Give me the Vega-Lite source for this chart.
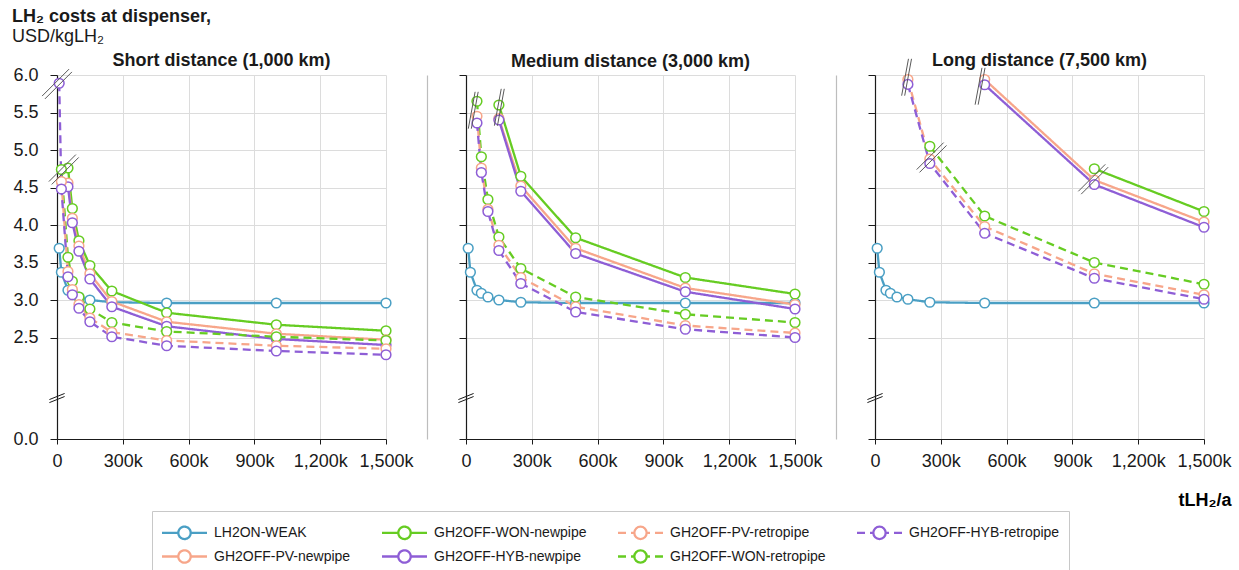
{
  "$schema": "https://vega.github.io/schema/vega-lite/v6.json",
  "autosize": {"type": "pad"},
  "padding": {"left": 12, "top": 8, "right": 5, "bottom": 5},
  "background": "white",
  "title": {
    "text": "LH₂ costs at dispenser,",
    "subtitle": "USD/kgLH₂",
    "anchor": "start",
    "frame": "group",
    "dx": -45,
    "offset": 6,
    "fontSize": 18,
    "fontWeight": "bold",
    "subtitleFontSize": 18,
    "subtitleFont": "Liberation Sans",
    "subtitleColor": "#1a1a1a",
    "subtitlePadding": 2
  },
  "datasets": {
    "lines": [
      {"panel": "short", "series": "LH2ON-WEAK", "x": 10000, "y": 3.69},
      {"panel": "short", "series": "LH2ON-WEAK", "x": 20000, "y": 3.37},
      {"panel": "short", "series": "LH2ON-WEAK", "x": 50000, "y": 3.13},
      {"panel": "short", "series": "LH2ON-WEAK", "x": 70000, "y": 3.09},
      {"panel": "short", "series": "LH2ON-WEAK", "x": 100000, "y": 3.04},
      {"panel": "short", "series": "LH2ON-WEAK", "x": 150000, "y": 3.0},
      {"panel": "short", "series": "LH2ON-WEAK", "x": 250000, "y": 2.97},
      {"panel": "short", "series": "LH2ON-WEAK", "x": 500000, "y": 2.96},
      {"panel": "short", "series": "LH2ON-WEAK", "x": 1000000, "y": 2.96},
      {"panel": "short", "series": "LH2ON-WEAK", "x": 1500000, "y": 2.96},
      {"panel": "short", "series": "GH2OFF-WON-newpipe", "x": 50000, "y": 4.76},
      {"panel": "short", "series": "GH2OFF-WON-newpipe", "x": 70000, "y": 4.22},
      {"panel": "short", "series": "GH2OFF-WON-newpipe", "x": 100000, "y": 3.79},
      {"panel": "short", "series": "GH2OFF-WON-newpipe", "x": 150000, "y": 3.46},
      {"panel": "short", "series": "GH2OFF-WON-newpipe", "x": 250000, "y": 3.12},
      {"panel": "short", "series": "GH2OFF-WON-newpipe", "x": 500000, "y": 2.83},
      {"panel": "short", "series": "GH2OFF-WON-newpipe", "x": 1000000, "y": 2.67},
      {"panel": "short", "series": "GH2OFF-WON-newpipe", "x": 1500000, "y": 2.59},
      {"panel": "short", "series": "GH2OFF-PV-newpipe", "x": 50000, "y": 4.56},
      {"panel": "short", "series": "GH2OFF-PV-newpipe", "x": 70000, "y": 4.09},
      {"panel": "short", "series": "GH2OFF-PV-newpipe", "x": 100000, "y": 3.72},
      {"panel": "short", "series": "GH2OFF-PV-newpipe", "x": 150000, "y": 3.35},
      {"panel": "short", "series": "GH2OFF-PV-newpipe", "x": 250000, "y": 2.98},
      {"panel": "short", "series": "GH2OFF-PV-newpipe", "x": 500000, "y": 2.71},
      {"panel": "short", "series": "GH2OFF-PV-newpipe", "x": 1000000, "y": 2.55},
      {"panel": "short", "series": "GH2OFF-PV-newpipe", "x": 1500000, "y": 2.47},
      {"panel": "short", "series": "GH2OFF-HYB-newpipe", "x": 50000, "y": 4.51},
      {"panel": "short", "series": "GH2OFF-HYB-newpipe", "x": 70000, "y": 4.03},
      {"panel": "short", "series": "GH2OFF-HYB-newpipe", "x": 100000, "y": 3.65},
      {"panel": "short", "series": "GH2OFF-HYB-newpipe", "x": 150000, "y": 3.28},
      {"panel": "short", "series": "GH2OFF-HYB-newpipe", "x": 250000, "y": 2.91},
      {"panel": "short", "series": "GH2OFF-HYB-newpipe", "x": 500000, "y": 2.65},
      {"panel": "short", "series": "GH2OFF-HYB-newpipe", "x": 1000000, "y": 2.48},
      {"panel": "short", "series": "GH2OFF-HYB-newpipe", "x": 1500000, "y": 2.4},
      {"panel": "short", "series": "GH2OFF-WON-retropipe", "x": 20000, "y": 4.74},
      {"panel": "short", "series": "GH2OFF-WON-retropipe", "x": 50000, "y": 3.57},
      {"panel": "short", "series": "GH2OFF-WON-retropipe", "x": 70000, "y": 3.25},
      {"panel": "short", "series": "GH2OFF-WON-retropipe", "x": 100000, "y": 3.04},
      {"panel": "short", "series": "GH2OFF-WON-retropipe", "x": 150000, "y": 2.88},
      {"panel": "short", "series": "GH2OFF-WON-retropipe", "x": 250000, "y": 2.7},
      {"panel": "short", "series": "GH2OFF-WON-retropipe", "x": 500000, "y": 2.58},
      {"panel": "short", "series": "GH2OFF-WON-retropipe", "x": 1000000, "y": 2.51},
      {"panel": "short", "series": "GH2OFF-WON-retropipe", "x": 1500000, "y": 2.46},
      {"panel": "short", "series": "GH2OFF-PV-retropipe", "x": 20000, "y": 4.58},
      {"panel": "short", "series": "GH2OFF-PV-retropipe", "x": 50000, "y": 3.38},
      {"panel": "short", "series": "GH2OFF-PV-retropipe", "x": 70000, "y": 3.14},
      {"panel": "short", "series": "GH2OFF-PV-retropipe", "x": 100000, "y": 2.94},
      {"panel": "short", "series": "GH2OFF-PV-retropipe", "x": 150000, "y": 2.76},
      {"panel": "short", "series": "GH2OFF-PV-retropipe", "x": 250000, "y": 2.57},
      {"panel": "short", "series": "GH2OFF-PV-retropipe", "x": 500000, "y": 2.46},
      {"panel": "short", "series": "GH2OFF-PV-retropipe", "x": 1000000, "y": 2.39},
      {"panel": "short", "series": "GH2OFF-PV-retropipe", "x": 1500000, "y": 2.35},
      {"panel": "short", "series": "GH2OFF-HYB-retropipe", "x": 10000, "y": 5.89},
      {"panel": "short", "series": "GH2OFF-HYB-retropipe", "x": 20000, "y": 4.48},
      {"panel": "short", "series": "GH2OFF-HYB-retropipe", "x": 50000, "y": 3.31},
      {"panel": "short", "series": "GH2OFF-HYB-retropipe", "x": 70000, "y": 3.07},
      {"panel": "short", "series": "GH2OFF-HYB-retropipe", "x": 100000, "y": 2.89},
      {"panel": "short", "series": "GH2OFF-HYB-retropipe", "x": 150000, "y": 2.71},
      {"panel": "short", "series": "GH2OFF-HYB-retropipe", "x": 250000, "y": 2.51},
      {"panel": "short", "series": "GH2OFF-HYB-retropipe", "x": 500000, "y": 2.39},
      {"panel": "short", "series": "GH2OFF-HYB-retropipe", "x": 1000000, "y": 2.32},
      {"panel": "short", "series": "GH2OFF-HYB-retropipe", "x": 1500000, "y": 2.27},

      {"panel": "medium", "series": "LH2ON-WEAK", "x": 10000, "y": 3.69},
      {"panel": "medium", "series": "LH2ON-WEAK", "x": 20000, "y": 3.37},
      {"panel": "medium", "series": "LH2ON-WEAK", "x": 50000, "y": 3.13},
      {"panel": "medium", "series": "LH2ON-WEAK", "x": 70000, "y": 3.09},
      {"panel": "medium", "series": "LH2ON-WEAK", "x": 100000, "y": 3.04},
      {"panel": "medium", "series": "LH2ON-WEAK", "x": 150000, "y": 3.0},
      {"panel": "medium", "series": "LH2ON-WEAK", "x": 250000, "y": 2.97},
      {"panel": "medium", "series": "LH2ON-WEAK", "x": 500000, "y": 2.96},
      {"panel": "medium", "series": "LH2ON-WEAK", "x": 1000000, "y": 2.96},
      {"panel": "medium", "series": "LH2ON-WEAK", "x": 1500000, "y": 2.96},
      {"panel": "medium", "series": "GH2OFF-WON-newpipe", "x": 150000, "y": 5.6},
      {"panel": "medium", "series": "GH2OFF-WON-newpipe", "x": 250000, "y": 4.65},
      {"panel": "medium", "series": "GH2OFF-WON-newpipe", "x": 500000, "y": 3.83},
      {"panel": "medium", "series": "GH2OFF-WON-newpipe", "x": 1000000, "y": 3.3},
      {"panel": "medium", "series": "GH2OFF-WON-newpipe", "x": 1500000, "y": 3.08},
      {"panel": "medium", "series": "GH2OFF-PV-newpipe", "x": 150000, "y": 5.42},
      {"panel": "medium", "series": "GH2OFF-PV-newpipe", "x": 250000, "y": 4.52},
      {"panel": "medium", "series": "GH2OFF-PV-newpipe", "x": 500000, "y": 3.69},
      {"panel": "medium", "series": "GH2OFF-PV-newpipe", "x": 1000000, "y": 3.16},
      {"panel": "medium", "series": "GH2OFF-PV-newpipe", "x": 1500000, "y": 2.94},
      {"panel": "medium", "series": "GH2OFF-HYB-newpipe", "x": 150000, "y": 5.4},
      {"panel": "medium", "series": "GH2OFF-HYB-newpipe", "x": 250000, "y": 4.45},
      {"panel": "medium", "series": "GH2OFF-HYB-newpipe", "x": 500000, "y": 3.62},
      {"panel": "medium", "series": "GH2OFF-HYB-newpipe", "x": 1000000, "y": 3.11},
      {"panel": "medium", "series": "GH2OFF-HYB-newpipe", "x": 1500000, "y": 2.88},
      {"panel": "medium", "series": "GH2OFF-WON-retropipe", "x": 50000, "y": 5.65},
      {"panel": "medium", "series": "GH2OFF-WON-retropipe", "x": 70000, "y": 4.91},
      {"panel": "medium", "series": "GH2OFF-WON-retropipe", "x": 100000, "y": 4.34},
      {"panel": "medium", "series": "GH2OFF-WON-retropipe", "x": 150000, "y": 3.84},
      {"panel": "medium", "series": "GH2OFF-WON-retropipe", "x": 250000, "y": 3.42},
      {"panel": "medium", "series": "GH2OFF-WON-retropipe", "x": 500000, "y": 3.04},
      {"panel": "medium", "series": "GH2OFF-WON-retropipe", "x": 1000000, "y": 2.81},
      {"panel": "medium", "series": "GH2OFF-WON-retropipe", "x": 1500000, "y": 2.7},
      {"panel": "medium", "series": "GH2OFF-PV-retropipe", "x": 50000, "y": 5.45},
      {"panel": "medium", "series": "GH2OFF-PV-retropipe", "x": 70000, "y": 4.76},
      {"panel": "medium", "series": "GH2OFF-PV-retropipe", "x": 100000, "y": 4.21},
      {"panel": "medium", "series": "GH2OFF-PV-retropipe", "x": 150000, "y": 3.73},
      {"panel": "medium", "series": "GH2OFF-PV-retropipe", "x": 250000, "y": 3.3},
      {"panel": "medium", "series": "GH2OFF-PV-retropipe", "x": 500000, "y": 2.91},
      {"panel": "medium", "series": "GH2OFF-PV-retropipe", "x": 1000000, "y": 2.66},
      {"panel": "medium", "series": "GH2OFF-PV-retropipe", "x": 1500000, "y": 2.56},
      {"panel": "medium", "series": "GH2OFF-HYB-retropipe", "x": 50000, "y": 5.36},
      {"panel": "medium", "series": "GH2OFF-HYB-retropipe", "x": 70000, "y": 4.7},
      {"panel": "medium", "series": "GH2OFF-HYB-retropipe", "x": 100000, "y": 4.18},
      {"panel": "medium", "series": "GH2OFF-HYB-retropipe", "x": 150000, "y": 3.66},
      {"panel": "medium", "series": "GH2OFF-HYB-retropipe", "x": 250000, "y": 3.22},
      {"panel": "medium", "series": "GH2OFF-HYB-retropipe", "x": 500000, "y": 2.84},
      {"panel": "medium", "series": "GH2OFF-HYB-retropipe", "x": 1000000, "y": 2.61},
      {"panel": "medium", "series": "GH2OFF-HYB-retropipe", "x": 1500000, "y": 2.5},

      {"panel": "long", "series": "LH2ON-WEAK", "x": 10000, "y": 3.69},
      {"panel": "long", "series": "LH2ON-WEAK", "x": 20000, "y": 3.37},
      {"panel": "long", "series": "LH2ON-WEAK", "x": 50000, "y": 3.13},
      {"panel": "long", "series": "LH2ON-WEAK", "x": 70000, "y": 3.09},
      {"panel": "long", "series": "LH2ON-WEAK", "x": 100000, "y": 3.04},
      {"panel": "long", "series": "LH2ON-WEAK", "x": 150000, "y": 3.01},
      {"panel": "long", "series": "LH2ON-WEAK", "x": 250000, "y": 2.97},
      {"panel": "long", "series": "LH2ON-WEAK", "x": 500000, "y": 2.96},
      {"panel": "long", "series": "LH2ON-WEAK", "x": 1000000, "y": 2.96},
      {"panel": "long", "series": "LH2ON-WEAK", "x": 1500000, "y": 2.96},
      {"panel": "long", "series": "GH2OFF-WON-newpipe", "x": 1000000, "y": 4.75},
      {"panel": "long", "series": "GH2OFF-WON-newpipe", "x": 1500000, "y": 4.18},
      {"panel": "long", "series": "GH2OFF-PV-newpipe", "x": 500000, "y": 5.94},
      {"panel": "long", "series": "GH2OFF-PV-newpipe", "x": 1000000, "y": 4.6},
      {"panel": "long", "series": "GH2OFF-PV-newpipe", "x": 1500000, "y": 4.04},
      {"panel": "long", "series": "GH2OFF-HYB-newpipe", "x": 500000, "y": 5.87},
      {"panel": "long", "series": "GH2OFF-HYB-newpipe", "x": 1000000, "y": 4.54},
      {"panel": "long", "series": "GH2OFF-HYB-newpipe", "x": 1500000, "y": 3.97},
      {"panel": "long", "series": "GH2OFF-WON-retropipe", "x": 250000, "y": 5.05},
      {"panel": "long", "series": "GH2OFF-WON-retropipe", "x": 500000, "y": 4.12},
      {"panel": "long", "series": "GH2OFF-WON-retropipe", "x": 1000000, "y": 3.5},
      {"panel": "long", "series": "GH2OFF-WON-retropipe", "x": 1500000, "y": 3.21},
      {"panel": "long", "series": "GH2OFF-PV-retropipe", "x": 150000, "y": 5.94},
      {"panel": "long", "series": "GH2OFF-PV-retropipe", "x": 250000, "y": 4.88},
      {"panel": "long", "series": "GH2OFF-PV-retropipe", "x": 500000, "y": 3.98},
      {"panel": "long", "series": "GH2OFF-PV-retropipe", "x": 1000000, "y": 3.35},
      {"panel": "long", "series": "GH2OFF-PV-retropipe", "x": 1500000, "y": 3.07},
      {"panel": "long", "series": "GH2OFF-HYB-retropipe", "x": 150000, "y": 5.875},
      {"panel": "long", "series": "GH2OFF-HYB-retropipe", "x": 250000, "y": 4.82},
      {"panel": "long", "series": "GH2OFF-HYB-retropipe", "x": 500000, "y": 3.89},
      {"panel": "long", "series": "GH2OFF-HYB-retropipe", "x": 1000000, "y": 3.29},
      {"panel": "long", "series": "GH2OFF-HYB-retropipe", "x": 1500000, "y": 3.01}
    ],
    "breaks": [
      {"panel": "short", "kind": "axis", "x": 0, "y": 1.28},
      {"panel": "short", "kind": "diag", "x": 0, "y": 5.88},
      {"panel": "short", "kind": "diag", "x": 31000, "y": 4.74},
      {"panel": "medium", "kind": "axis", "x": 0, "y": 1.28},
      {"panel": "medium", "kind": "steep", "x": 33000, "y": 5.53},
      {"panel": "medium", "kind": "steep", "x": 152000, "y": 5.57},
      {"panel": "long", "kind": "axis", "x": 0, "y": 1.28},
      {"panel": "long", "kind": "steep", "x": 144000, "y": 5.97},
      {"panel": "long", "kind": "steep", "x": 479000, "y": 5.85},
      {"panel": "long", "kind": "diag", "x": 258000, "y": 4.9},
      {"panel": "long", "kind": "diag", "x": 995000, "y": 4.61}
    ]
  },
  "hconcat": [
    {
      "width": 329,
      "height": 364,
      "title": {"text": "Short distance (1,000 km)", "dy": 13.2},
      "layer": [
        {
          "data": {"name": "lines"},
          "transform": [{"filter": "datum.panel === 'short'"}],
          "mark": {"type": "line", "strokeWidth": 2.3},
          "encoding": {
            "x": {"field": "x", "type": "quantitative", "scale": {"domain": [0, 1500000], "nice": false, "zero": false},
                  "axis": {"values": [0, 300000, 600000, 900000, 1200000, 1500000], "labelExpr": "datum.value === 0 ? '0' : format(datum.value / 1000, ',') + 'k'", "title": null}},
            "y": {"field": "y", "type": "quantitative", "scale": {"domain": [0, 2, 6], "range": [364, 300, 0], "nice": false, "zero": false},
                  "axis": {"values": [0, 2.5, 3, 3.5, 4, 4.5, 5, 5.5, 6], "format": ".1f", "title": null}},
            "color": {"field": "series", "type": "nominal",
                      "scale": {"domain": ["LH2ON-WEAK", "GH2OFF-WON-newpipe", "GH2OFF-PV-retropipe", "GH2OFF-HYB-retropipe", "GH2OFF-PV-newpipe", "GH2OFF-HYB-newpipe", "GH2OFF-WON-retropipe"],
                                "range": ["#4a9fc4", "#66cc22", "#f7a68a", "#8e5ed6", "#f7a68a", "#8e5ed6", "#66cc22"]},
                      "legend": {"orient": "none", "legendX": 95, "legendY": 436, "direction": "horizontal", "columns": 4, "title": null}},
            "strokeDash": {"field": "series", "type": "nominal",
                      "scale": {"domain": ["LH2ON-WEAK", "GH2OFF-WON-newpipe", "GH2OFF-PV-retropipe", "GH2OFF-HYB-retropipe", "GH2OFF-PV-newpipe", "GH2OFF-HYB-newpipe", "GH2OFF-WON-retropipe"],
                                "range": [[1, 0], [1, 0], [8, 5], [8, 5], [1, 0], [1, 0], [8, 5]]},
                      "legend": {"orient": "none", "legendX": 95, "legendY": 436, "direction": "horizontal", "columns": 4, "title": null}}
          }
        },
        {
          "data": {"name": "lines"},
          "transform": [{"filter": "datum.panel === 'short'"}],
          "mark": {"type": "point", "shape": "circle", "filled": false, "fill": "white", "fillOpacity": 1, "opacity": 1, "strokeWidth": 1.5, "size": 95},
          "encoding": {
            "x": {"field": "x", "type": "quantitative"},
            "y": {"field": "y", "type": "quantitative"},
            "color": {"field": "series", "type": "nominal"}
          }
        },
        {
          "data": {"name": "breaks"},
          "transform": [{"filter": "datum.panel === 'short'"}],
          "mark": {"type": "point", "filled": false, "opacity": 1, "strokeWidth": 1, "size": 1444},
          "encoding": {
            "x": {"field": "x", "type": "quantitative"},
            "y": {"field": "y", "type": "quantitative"},
            "shape": {"field": "kind", "type": "nominal", "legend": null,
                      "scale": {"domain": ["diag", "steep", "axis"], "range": ["M-0.785,0.635L0.635,-0.785M-0.635,0.785L0.785,-0.635", "M-0.26,0.97L0.1,-0.97M-0.1,0.97L0.26,-0.97", "M-0.4,0.08L0.4,-0.24M-0.4,0.24L0.4,-0.08"]}},
            "stroke": {"field": "kind", "type": "nominal", "legend": null,
                       "scale": {"domain": ["diag", "steep", "axis"], "range": ["#5a5a5a", "#5a5a5a", "#1a1a1a"]}}
          }
        }
      ]
    },
    {
      "width": 329,
      "height": 364,
      "title": {"text": "Medium distance (3,000 km)", "dy": 5.2},
      "resolve": {"axis": {"y": "independent"}},
      "layer": [
        {
          "data": {"name": "lines"},
          "transform": [{"filter": "datum.panel === 'medium'"}],
          "mark": {"type": "line", "strokeWidth": 2.3},
          "encoding": {
            "x": {"field": "x", "type": "quantitative", "scale": {"domain": [0, 1500000], "nice": false, "zero": false},
                  "axis": {"values": [0, 300000, 600000, 900000, 1200000, 1500000], "labelExpr": "datum.value === 0 ? '0' : format(datum.value / 1000, ',') + 'k'", "title": null}},
            "y": {"field": "y", "type": "quantitative", "scale": {"domain": [0, 2, 6], "range": [364, 300, 0], "nice": false, "zero": false},
                  "axis": {"values": [0, 2.5, 3, 3.5, 4, 4.5, 5, 5.5, 6], "labels": false, "title": null}},
            "color": {"field": "series", "type": "nominal"},
            "strokeDash": {"field": "series", "type": "nominal"}
          }
        },
        {
          "data": {"name": "lines"},
          "transform": [{"filter": "datum.panel === 'medium'"}],
          "mark": {"type": "point", "shape": "circle", "filled": false, "fill": "white", "fillOpacity": 1, "opacity": 1, "strokeWidth": 1.5, "size": 95},
          "encoding": {
            "x": {"field": "x", "type": "quantitative"},
            "y": {"field": "y", "type": "quantitative", "axis": null},
            "color": {"field": "series", "type": "nominal"}
          }
        },
        {
          "data": {"name": "breaks"},
          "transform": [{"filter": "datum.panel === 'medium'"}],
          "mark": {"type": "point", "filled": false, "opacity": 1, "strokeWidth": 1, "size": 1444},
          "encoding": {
            "x": {"field": "x", "type": "quantitative"},
            "y": {"field": "y", "type": "quantitative",
                  "axis": {"orient": "left", "offset": 39, "labels": false, "ticks": false, "grid": false, "title": null, "domainColor": "#bdbdbd"}},
            "shape": {"field": "kind", "type": "nominal", "legend": null},
            "stroke": {"field": "kind", "type": "nominal", "legend": null}
          }
        }
      ]
    },
    {
      "width": 329,
      "height": 364,
      "title": {"text": "Long distance (7,500 km)", "dy": 22.2},
      "resolve": {"axis": {"y": "independent"}},
      "layer": [
        {
          "data": {"name": "lines"},
          "transform": [{"filter": "datum.panel === 'long'"}],
          "mark": {"type": "line", "strokeWidth": 2.3},
          "encoding": {
            "x": {"field": "x", "type": "quantitative", "scale": {"domain": [0, 1500000], "nice": false, "zero": false},
                  "axis": {"values": [0, 300000, 600000, 900000, 1200000, 1500000], "labelExpr": "datum.value === 0 ? '0' : format(datum.value / 1000, ',') + 'k'",
                           "title": "tLH₂/a", "titleX": 356, "titleY": 66, "titleAlign": "right", "titleBaseline": "alphabetic", "titleFontWeight": "bold", "titleFontSize": 18}},
            "y": {"field": "y", "type": "quantitative", "scale": {"domain": [0, 2, 6], "range": [364, 300, 0], "nice": false, "zero": false},
                  "axis": {"values": [0, 2.5, 3, 3.5, 4, 4.5, 5, 5.5, 6], "labels": false, "title": null}},
            "color": {"field": "series", "type": "nominal"},
            "strokeDash": {"field": "series", "type": "nominal"}
          }
        },
        {
          "data": {"name": "lines"},
          "transform": [{"filter": "datum.panel === 'long'"}],
          "mark": {"type": "point", "shape": "circle", "filled": false, "fill": "white", "fillOpacity": 1, "opacity": 1, "strokeWidth": 1.5, "size": 95},
          "encoding": {
            "x": {"field": "x", "type": "quantitative"},
            "y": {"field": "y", "type": "quantitative", "axis": null},
            "color": {"field": "series", "type": "nominal"}
          }
        },
        {
          "data": {"name": "breaks"},
          "transform": [{"filter": "datum.panel === 'long'"}],
          "mark": {"type": "point", "filled": false, "opacity": 1, "strokeWidth": 1, "size": 1444},
          "encoding": {
            "x": {"field": "x", "type": "quantitative"},
            "y": {"field": "y", "type": "quantitative",
                  "axis": {"orient": "left", "offset": 39, "labels": false, "ticks": false, "grid": false, "title": null, "domainColor": "#bdbdbd"}},
            "shape": {"field": "kind", "type": "nominal", "legend": null},
            "stroke": {"field": "kind", "type": "nominal", "legend": null}
          }
        }
      ]
    }
  ],
  "spacing": 80,
  "bounds": "flush",
  "config": {
    "font": "Liberation Sans",
    "view": {"stroke": null},
    "axis": {
      "labelFont": "Liberation Sans",
      "labelFontSize": 18,
      "labelColor": "#1a1a1a",
      "domainColor": "#1a1a1a",
      "domainWidth": 1.2,
      "tickColor": "#1a1a1a",
      "gridColor": "#dcdcdc",
      "gridWidth": 1,
      "labelFlush": false,
      "labelOverlap": false
    },
    "axisX": {"tickSize": 5, "labelPadding": 8, "grid": true},
    "axisY": {"tickSize": 7, "labelPadding": 12, "grid": true},
    "title": {"font": "Liberation Sans", "fontSize": 18, "fontWeight": "bold", "color": "#1a1a1a", "offset": 9, "baseline": "alphabetic"},
    "legend": {
      "labelFont": "Liberation Sans",
      "labelFontSize": 14,
      "labelColor": "#1a1a1a",
      "labelLimit": 300,
      "labelOffset": 17,
      "symbolOffset": 11,
      "symbolType": "M-2,0L-0.55,0M2,0L0.55,0M0.55,0A0.55,0.55,0,0,1,0.389,0.389M0.389,0.389A0.55,0.55,0,0,1,0,0.55M0,0.55A0.55,0.55,0,0,1,-0.389,0.389M-0.389,0.389A0.55,0.55,0,0,1,-0.55,0M-0.55,0A0.55,0.55,0,0,1,-0.389,-0.389M-0.389,-0.389A0.55,0.55,0,0,1,0,-0.55M0,-0.55A0.55,0.55,0,0,1,0.389,-0.389M0.389,-0.389A0.55,0.55,0,0,1,0.55,0",
      "symbolSize": 506,
      "symbolStrokeWidth": 2.3,
      "symbolFillColor": "transparent",
      "rowPadding": 0,
      "columnPadding": 26,
      "strokeColor": "#c8c8c8",
      "padding": 9
    }
  }
}
